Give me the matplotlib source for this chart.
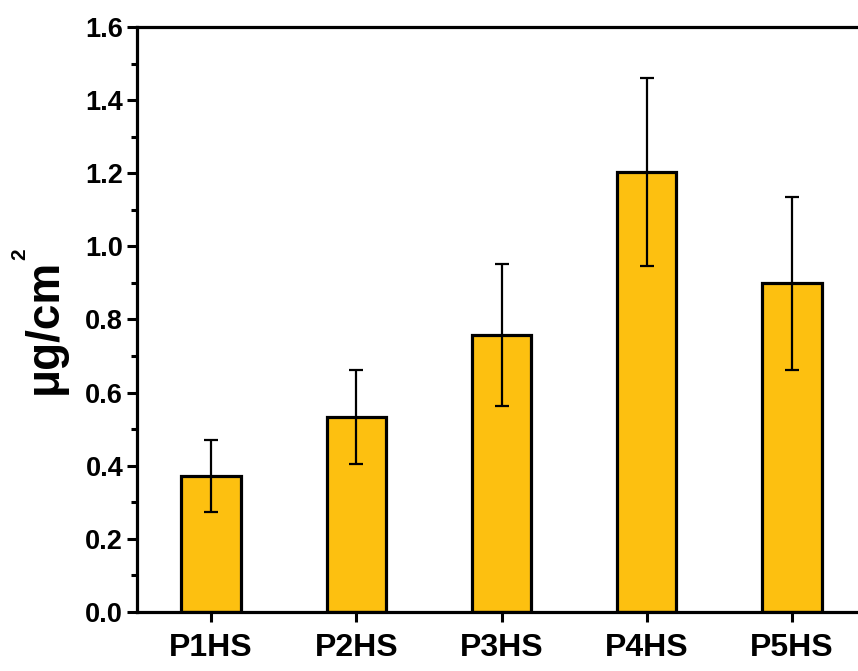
import numpy as np
import matplotlib
matplotlib.use("Agg")
import matplotlib.pyplot as plt
from matplotlib.ticker import MultipleLocator, FormatStrFormatter

plt.rcParams['font.family'] = ['Liberation Sans', 'DejaVu Sans']

# data
samples = ['P1HS', 'P2HS', 'P3HS', 'P4HS', 'P5HS']
means = [0.372, 0.533, 0.758, 1.203, 0.899]
errors = [0.098, 0.129, 0.195, 0.258, 0.236]

fig = plt.figure(figsize=(8.58, 6.71), dpi=100)
ax = fig.add_axes([0.1597, 0.0879, 0.8496, 0.8719])

x = np.arange(len(samples))
ax.bar(x, means, width=0.41, color='#FDC010', edgecolor='black', linewidth=2.3, zorder=2)
ax.errorbar(x, means, yerr=errors, fmt='none', ecolor='black', elinewidth=1.6,
            capsize=5, capthick=1.6, zorder=3)

ax.set_xlim(-0.51, 4.51)
ax.set_ylim(0, 1.6)
ax.set_xticks(x)
ax.set_xticklabels(samples, fontsize=23, fontweight='bold')
ax.yaxis.set_major_locator(MultipleLocator(0.2))
ax.yaxis.set_minor_locator(MultipleLocator(0.1))
ax.yaxis.set_major_formatter(FormatStrFormatter('%.1f'))
for lab in ax.get_yticklabels():
    lab.set_fontsize(19.5)
    lab.set_fontweight('bold')

ax.tick_params(axis='both', which='major', direction='out', length=7, width=2.2)
ax.tick_params(axis='y', which='major', pad=3)
ax.tick_params(axis='y', which='minor', direction='out', length=4, width=2.2)
ax.tick_params(axis='x', which='major', pad=8)

for s in ax.spines.values():
    s.set_linewidth(2.3)

# y label with a small superscript placed separately
ax.set_ylabel('μg/cm', fontsize=33, fontweight='bold')
ax.yaxis.set_label_coords(-0.097, 0.489)
fig.text(20 / 858, 1 - 254 / 671, '2', fontsize=15, fontweight='bold',
         rotation=90, ha='center', va='center')

fig.savefig('out.png', dpi=100)
